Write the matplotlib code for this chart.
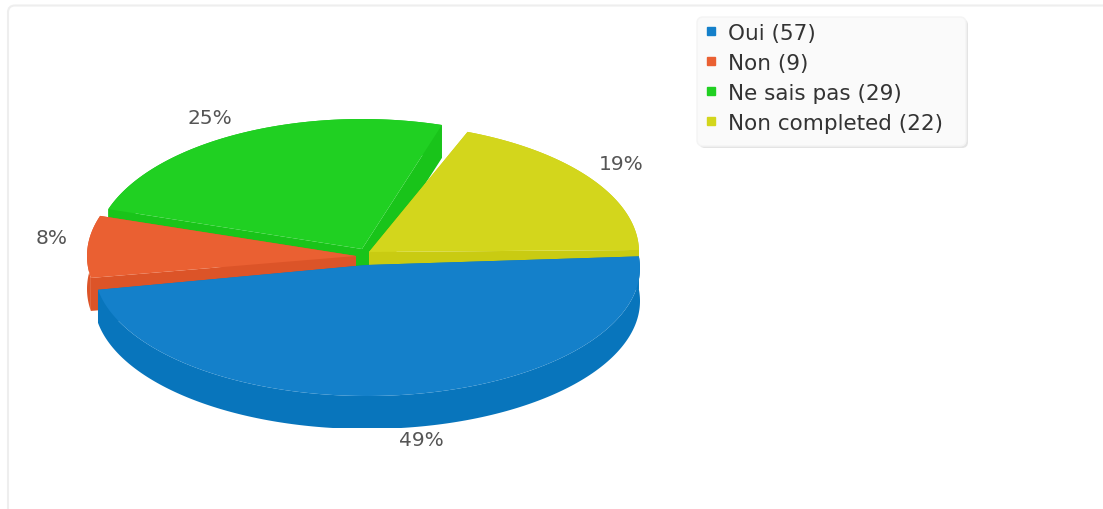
import numpy as np
import matplotlib
matplotlib.use("Agg")
import matplotlib.pyplot as plt
from matplotlib.lines import Line2D
from matplotlib.patches import FancyBboxPatch, Rectangle

# datos del grafico
categorias = ["Oui", "Non", "Ne sais pas", "Non completed"]
valores = [57, 9, 29, 22]
porcentajes = ["49%", "8%", "25%", "19%"]

colores = ["#1480CA", "#EA6032", "#20D022", "#D3D61C"]
colores_lado = ["#0875BC", "#DC5428", "#19C41A", "#C9CB12"]

# geometria de cada porcion (pastel separado, con algo de perspectiva), en pixeles
centros_x = [367, 356, 362, 369]
centros_y = [269, 257, 251, 253]
vertice_y = [266, 257, 250, 253]
radios_x = [273, 269, 267, 270]
radios_y = [128, 130, 131, 129]
giros = [1.7, 1.6, 1.4, -2.6]
pos_textos = [(421, 441), (52, 239), (210, 119), (621, 165)]

ALTO = 33
ANGULO_INICIO = 3.5  # grados, sentido antihorario desde la derecha

fig = plt.figure(figsize=(11.03, 5.10), dpi=100)
ax = fig.add_axes([0, 0, 1, 1])
ax.set_xlim(0, 1103)
ax.set_ylim(510, 0)
ax.axis("off")

# marco de la tarjeta
ax.add_patch(FancyBboxPatch((8, 6.5), 1200, 600, boxstyle="round,pad=0,rounding_size=7",
                            fc="white", ec="#EEEEEE", lw=1.5))

total = sum(valores)
barrido = [v / total * 360 for v in valores]

# los angulos van: Oui termina en el inicio, luego amarillo, verde, rojo hacia la izquierda
inicio_amarillo = ANGULO_INICIO
inicio_verde = inicio_amarillo + barrido[3]
inicio_rojo = inicio_verde + barrido[2]
inicio_azul = inicio_rojo + barrido[1]
rangos = {0: (inicio_azul, inicio_azul + barrido[0]),
          1: (inicio_rojo, inicio_azul),
          2: (inicio_verde, inicio_rojo),
          3: (inicio_amarillo, inicio_verde)}

recorte = Rectangle((0, 0), 1103, 428.7, transform=ax.transData)


def dibujar_porcion(i):
    a0, a1 = rangos[i]
    cx, cy = centros_x[i], centros_y[i]
    vy = vertice_y[i]
    t = np.radians(np.linspace(a0 + giros[i], a1 + giros[i], 200))
    xs = cx + radios_x[i] * np.cos(t)
    ys = cy - radios_y[i] * np.sin(t)

    # paredes cortadas
    for k in (0, -1):
        p = ax.fill([cx, xs[k], xs[k], cx], [vy, ys[k], ys[k] + ALTO, vy + ALTO],
                    color=colores_lado[i], lw=0)
        p[0].set_clip_path(recorte)
    # pared exterior
    p = ax.fill(np.r_[xs, xs[::-1]], np.r_[ys, ys[::-1] + ALTO], color=colores_lado[i], lw=0)
    p[0].set_clip_path(recorte)
    # cara superior
    ax.fill(np.r_[cx, xs], np.r_[vy, ys], color=colores[i], lw=0)


for i in [2, 3, 1, 0]:
    dibujar_porcion(i)

for i in range(len(porcentajes)):
    ax.text(pos_textos[i][0], pos_textos[i][1], porcentajes[i], color="#555555", fontsize=14.5,
            ha="center", va="center")

# caja de la leyenda con su sombra
ax.add_patch(FancyBboxPatch((699, 20), 269, 129, boxstyle="round,pad=0,rounding_size=6",
                            fc="#E4E4E4", ec="none"))
ax.add_patch(FancyBboxPatch((697, 18), 269, 129, boxstyle="round,pad=0,rounding_size=6",
                            fc="#FAFAFA", ec="#F4F4F4", lw=1))

handles = [Line2D([], [], ls="", marker="s", ms=5.5, color=c) for c in colores]
labels = [f"{c} ({v})" for c, v in zip(categorias, valores)]
ley = ax.legend(handles, labels, loc="upper left", bbox_to_anchor=(699 / 1103, 1 - 18 / 510),
                borderaxespad=0, fontsize=15.5, labelcolor="#333333", frameon=False,
                handlelength=0.6, handletextpad=0.45, labelspacing=0.46, borderpad=0.28)

fig.savefig("out.png", dpi=100)
